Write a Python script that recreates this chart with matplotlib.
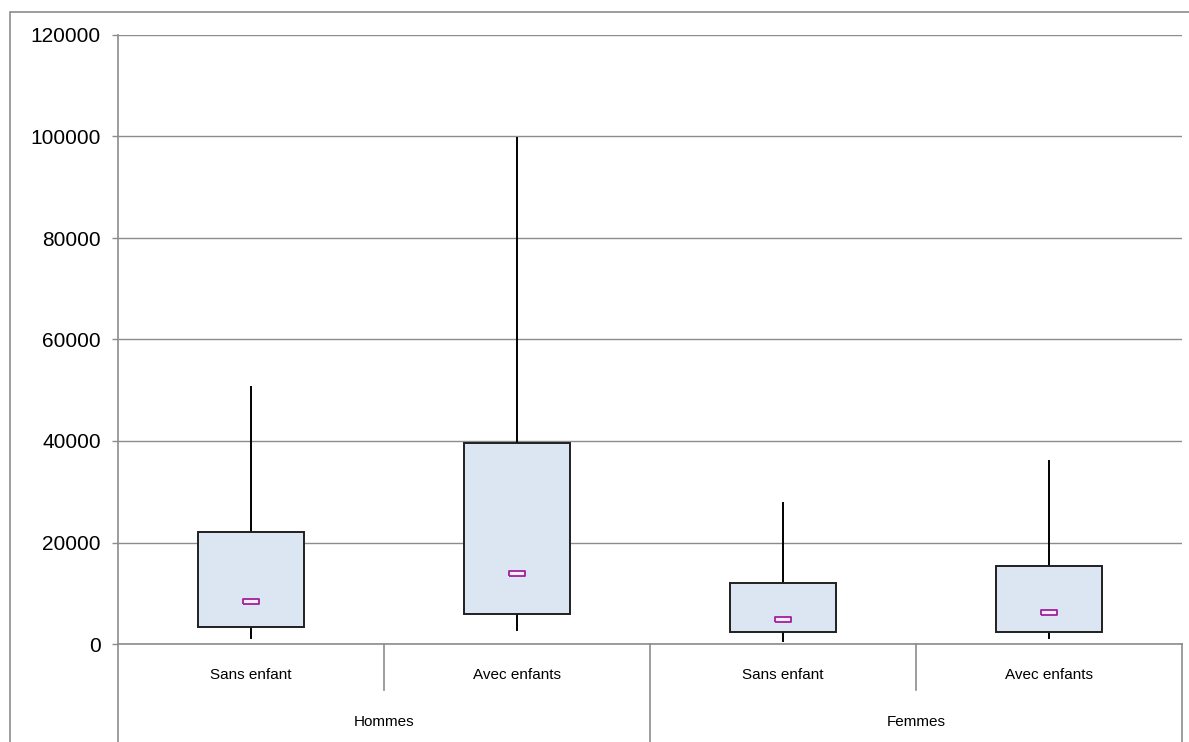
import matplotlib.pyplot as plt
from matplotlib.patches import Rectangle
import matplotlib.transforms as mtransforms

# categories
sub_labels = ['Sans enfant', 'Avec enfants', 'Sans enfant', 'Avec enfants']
group_labels = ['Hommes', 'Femmes']

# box values
low = [1200, 2800, 600, 1200]
q1 = [3300, 5900, 2400, 2400]
median = [8450, 14000, 4950, 6300]
q3 = [22000, 39700, 12000, 15400]
high = [50600, 99700, 27800, 36000]

yticks = [0, 20000, 40000, 60000, 80000, 100000, 120000]

plt.rcParams['font.family'] = ['Liberation Sans', 'DejaVu Sans']
grid_col = '#8c8c8c'

fig = plt.figure(figsize=(11.89, 7.42), dpi=100)
# outer chart frame (cropped at right/bottom)
fig.patches.append(Rectangle((10 / 1189, -0.05), 1.2, 1 - 12 / 742 + 0.05,
                             transform=fig.transFigure, fill=False,
                             edgecolor=grid_col, linewidth=1.2))

ax = fig.add_axes([118 / 1189, 1 - 644 / 742, (1182 - 118) / 1189, (644 - 35) / 742])
ax.set_xlim(-0.5, 3.5)
ax.set_ylim(0, 120000)

w = 0.4
for i in range(len(sub_labels)):
    ax.plot([i, i], [low[i], high[i]], color='black', linewidth=1.4, zorder=2)
    ax.add_patch(Rectangle((i - w / 2, q1[i]), w, q3[i] - q1[i],
                           facecolor='#dce6f2', edgecolor='#202020',
                           linewidth=1.4, zorder=3))
rect = [(-1, -0.3), (1, -0.3), (1, 0.3), (-1, 0.3), (-1, -0.3)]
ax.plot(range(len(sub_labels)), median, linestyle='none', marker=rect,
        markersize=12, markerfacecolor='#f6eef6', markeredgecolor='#a020a0',
        markeredgewidth=1.3, zorder=4)

ax.set_yticks(yticks)
ax.set_yticklabels([str(t) for t in yticks], fontsize=15)
ax.yaxis.grid(True, color=grid_col, linewidth=1.0)
ax.set_axisbelow(True)
ax.tick_params(axis='y', length=4.3, width=1.0, color=grid_col, pad=8)
ax.set_xticks([])
for s in ['top', 'right']:
    ax.spines[s].set_visible(False)
for s in ['left', 'bottom']:
    ax.spines[s].set_color(grid_col)
    ax.spines[s].set_linewidth(1.2)

# category axis below the plot
tr = mtransforms.blended_transform_factory(ax.transData, ax.transAxes)
y_full = (644 - 742) / 609
y_short = (644 - 690) / 609
for x, y0 in [(-0.5, y_full), (0.5, y_short), (1.5, y_full), (2.5, y_short), (3.5, y_full)]:
    ax.plot([x, x], [0, y0], color=grid_col, linewidth=1.2, transform=tr, clip_on=False)
for i, lab in enumerate(sub_labels):
    ax.text(i, (644 - 675) / 609, lab, transform=tr, ha='center', va='center', fontsize=11)
for j, lab in enumerate(group_labels):
    ax.text(0.5 + 2 * j, (644 - 722) / 609, lab, transform=tr, ha='center', va='center', fontsize=11)

fig.savefig('out.png', dpi=100)
